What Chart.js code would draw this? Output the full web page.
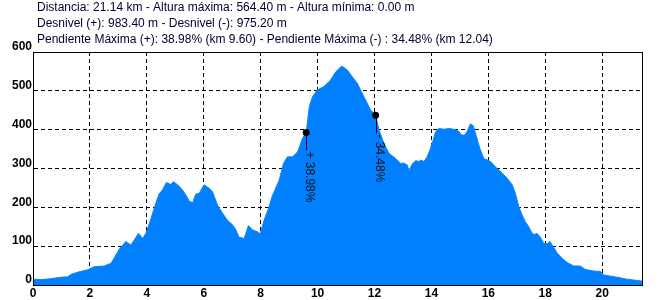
<!DOCTYPE html>
<html>
<head>
<meta charset="utf-8">
<script src="https://cdn.jsdelivr.net/npm/chart.js@4/dist/chart.umd.min.js"></script>
<style>
  html, body { margin: 0; padding: 0; background: #fff; }
  #wrap { width: 658px; height: 300px; position: relative; }
</style>
</head>
<body>
<div id="wrap"><canvas id="perfil"></canvas></div>
<script>
// cabecera
const headerLines = [
  'Distancia: 21.14 km - Altura máxima: 564.40 m - Altura mínima: 0.00 m',
  'Desnivel (+): 983.40 m - Desnivel (-): 975.20 m',
  'Pendiente Máxima (+): 38.98% (km 9.60) - Pendiente Máxima (-) : 34.48% (km 12.04)'
];

// perfil: distancia (km) y altura (m)
const distKm = [
  0.00, 0.05, 0.30, 0.60, 0.98, 1.22, 1.33, 1.57, 1.92, 2.15, 2.50, 2.74, 2.85, 3.03, 3.26, 3.44,
  3.71, 3.85, 3.97, 4.14, 4.32, 4.43, 4.55, 4.69, 4.84, 4.94, 5.08, 5.25, 5.37, 5.49, 5.61, 5.72,
  5.84, 6.01, 6.19, 6.31, 6.48, 6.66, 6.83, 7.01, 7.13, 7.24, 7.42, 7.57, 7.71, 7.89, 7.98, 8.12,
  8.29, 8.40, 8.65, 8.80, 8.94, 9.12, 9.30, 9.47, 9.60, 9.71, 9.82, 9.99, 10.22, 10.46, 10.64, 10.85,
  11.04, 11.22, 11.40, 11.51, 11.69, 11.86, 12.04, 12.16, 12.33, 12.51, 12.74, 12.92, 13.03, 13.15,
  13.21, 13.33, 13.45, 13.57, 13.62, 13.74, 13.85, 13.97, 14.06, 14.15, 14.26, 14.44, 14.61, 14.79,
  14.96, 15.05, 15.17, 15.26, 15.37, 15.47, 15.55, 15.63, 15.72, 15.84, 15.96, 16.08, 16.19, 16.31,
  16.49, 16.66, 16.84, 16.95, 17.07, 17.19, 17.30, 17.42, 17.54, 17.62, 17.71, 17.83, 17.95, 18.07,
  18.16, 18.28, 18.42, 18.59, 18.77, 19.00, 19.23, 19.41, 19.70, 19.94, 20.05, 20.52, 20.87, 21.40
];
const alturaM = [
  8, 15, 14, 16, 20, 21, 27, 33, 39, 47, 49, 56, 69, 92, 112, 103,
  133, 120, 133, 170, 212, 234, 245, 264, 259, 266, 258, 245, 232, 216, 212, 234,
  236, 258, 249, 240, 206, 185, 167, 155, 142, 123, 120, 153, 142, 137, 131, 167,
  200, 228, 270, 313, 330, 330, 343, 378, 393, 459, 485, 502, 511, 528, 549, 564,
  554, 536, 519, 502, 476, 451, 437, 399, 365, 339, 326, 313, 314, 309,
  294, 312, 320, 318, 322, 318, 330, 352, 373, 395, 403, 401, 403, 401,
  396, 386, 386, 396, 415, 410, 391, 369, 348, 326, 322, 318, 309, 300,
  288, 275, 258, 236, 202, 180, 163, 150, 133, 130, 133, 123, 107, 106,
  112, 99, 82, 69, 58, 49, 49, 40, 36, 35, 26, 20, 15, 10
];

// pendientes máximas
const marcaKm     = [9.60, 12.04];
const marcaAltura = [393, 437];
const marcaTexto  = ['+ 38.98%', '- 34.48%'];

const perfilData = distKm.map(function(k, i){ return { x: k, y: alturaM[i] }; });
const marcaData  = marcaKm.map(function(k, i){ return { x: k, y: marcaAltura[i] }; });

const cabecera = {
  id: 'cabecera',
  afterDraw(chart) {
    const ctx = chart.ctx;
    ctx.save();
    ctx.font = '12px "Liberation Sans", Arial, sans-serif';
    ctx.fillStyle = '#000030';
    ctx.textBaseline = 'middle';
    headerLines.forEach(function(t, i){ ctx.fillText(t, 37, 8 + i * 16); });
    ctx.restore();
  }
};

const marco = {
  id: 'marco',
  afterDraw(chart) {
    const a = chart.chartArea, ctx = chart.ctx;
    const xs = chart.scales.x, ys = chart.scales.y;
    ctx.save();
    ctx.strokeStyle = '#000';
    ctx.lineWidth = 1;
    ctx.strokeRect(Math.round(a.left) + 0.5, Math.round(a.top) + 0.5, Math.round(a.right - a.left), Math.round(a.bottom - a.top));

    // lineas y textos de pendiente
    ctx.font = '12px "Liberation Sans", Arial, sans-serif';
    ctx.fillStyle = '#101010';
    ctx.textBaseline = 'middle';
    marcaKm.forEach(function(k, i){
      const px = Math.round(xs.getPixelForValue(k)) + 0.5;
      const py = ys.getPixelForValue(marcaAltura[i]);
      ctx.strokeStyle = '#000020';
      ctx.beginPath();
      ctx.moveTo(px, py);
      ctx.lineTo(px, py + 18);
      ctx.stroke();
      ctx.save();
      ctx.translate(px + 3, py + 19);
      ctx.rotate(Math.PI / 2);
      ctx.fillText(marcaTexto[i], 0, 0);
      ctx.restore();
    });
    ctx.restore();
  }
};

new Chart(document.getElementById('perfil'), {
  type: 'line',
  data: {
    datasets: [
      { data: marcaData, showLine: false, pointRadius: 3.5, pointBackgroundColor: '#000', pointBorderColor: '#000', borderWidth: 0 },
      { data: perfilData, borderColor: '#0a84ff', backgroundColor: '#0080ff', borderWidth: 1, pointRadius: 0, tension: 0, fill: 'origin' }
    ]
  },
  options: {
    responsive: true, maintainAspectRatio: false, animation: false,
    layout: { padding: { top: 52, right: 16, left: 0, bottom: 0 } },
    plugins: { legend: { display: false }, tooltip: { enabled: false }, title: { display: false } },
    scales: {
      x: {
        type: 'linear', min: 0, max: 21.4, z: 1,
        afterFit: function(s){ s.height = 15; },
        ticks: { stepSize: 2, includeBounds: false, color: '#000', padding: 1, maxRotation: 0,
                 font: { family: '"Liberation Sans", Arial, sans-serif', size: 12, weight: 'bold' } },
        grid: { color: '#000', lineWidth: 1, drawTicks: false, tickLength: 0 },
        border: { display: true, color: '#000', dash: [4, 3] }
      },
      y: {
        min: 0, max: 600, z: 1,
        afterFit: function(s){ s.width = 33; },
        ticks: { stepSize: 100, color: '#000', padding: 1, labelOffset: -5,
                 font: { family: '"Liberation Sans", Arial, sans-serif', size: 12, weight: 'bold' } },
        grid: { color: '#000', lineWidth: 1, drawTicks: false, tickLength: 0 },
        border: { display: true, color: '#000', dash: [4, 3] }
      }
    }
  },
  plugins: [cabecera, marco]
});
</script>
</body>
</html>
